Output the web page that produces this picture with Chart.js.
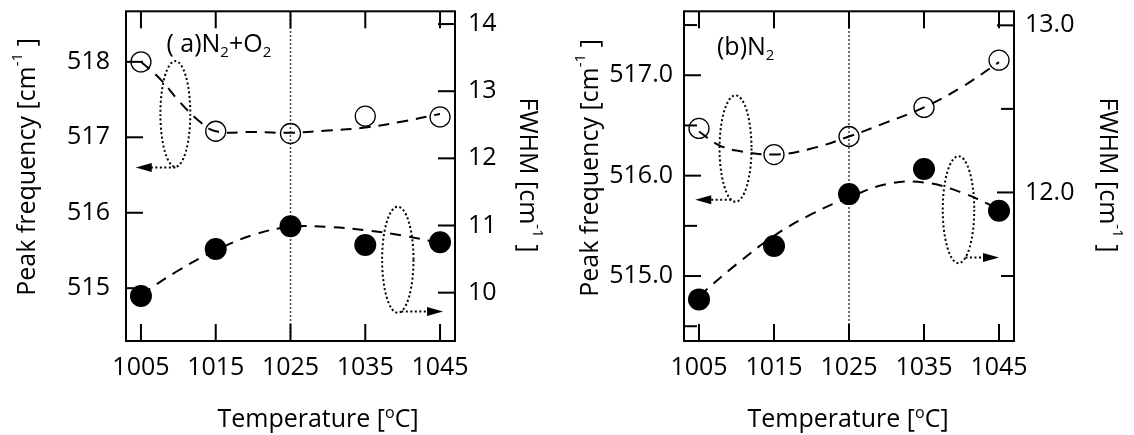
<!DOCTYPE html>
<html>
<head>
<meta charset="utf-8">
<script src="https://cdn.jsdelivr.net/npm/chart.js@4.4.1/dist/chart.umd.min.js"></script>
<style>
    body { margin: 0; background: #fff; }
    canvas { position: absolute; top: 0; }
    #chartA { left: 0; }
    #chartB { left: 567px; }
</style>
</head>
<body>
<canvas id="chartA" width="567" height="435"></canvas>
<canvas id="chartB" width="567" height="435"></canvas>
<script>
// Temperatures [oC]
const temps = [1005, 1015, 1025, 1035, 1045];
const xTicks = [1005, 1015, 1025, 1035, 1045];

// (a) N2+O2
const freqA = [518.00, 517.08, 517.05, 517.28, 517.27];
const fwhmA = [9.95, 10.65, 10.99, 10.71, 10.75];
const fitTempsFreqA = [1005, 1007.5, 1010, 1012.5, 1015, 1020, 1025, 1030, 1035, 1040, 1045];
const fitFreqA = [518.00, 517.78, 517.49, 517.24, 517.08, 517.07, 517.06, 517.09, 517.13, 517.21, 517.31];
const fitTempsFwhmA = [1005, 1010, 1015, 1020, 1025, 1030, 1035, 1040, 1045];
const fitFwhmA = [9.97, 10.33, 10.63, 10.86, 10.98, 10.98, 10.93, 10.85, 10.74];
const freqTicksA = [515, 516, 517, 518];
const fwhmTicksA = [10, 11, 12, 13, 14];

// (b) N2
const freqB = [516.47, 516.21, 516.39, 516.68, 517.15];
const fwhmB = [11.36, 11.68, 11.99, 12.14, 11.89];
const fitTempsFreqB = [1005, 1007.5, 1010, 1015, 1020, 1025, 1030, 1035, 1040, 1045];
const fitFreqB = [516.44, 516.31, 516.25, 516.21, 516.27, 516.39, 516.53, 516.68, 516.88, 517.13];
const fitTempsFwhmB = [1005, 1010, 1015, 1020, 1025, 1030, 1035, 1040, 1045];
const fitFwhmB = [11.38, 11.57, 11.74, 11.87, 11.97, 12.05, 12.06, 12.00, 11.90];
const freqTicksB = [514.5, 515, 515.5, 516, 516.5, 517, 517.5];
const fwhmTicksB = [11.5, 12, 12.5, 13];

const FONT = '"Open Sans", "Liberation Sans", Arial, sans-serif';

function pts(xs, ys) {
    return xs.map((x, i) => ({ x: x, y: ys[i] }));
}

// text with sub/superscripts, centered (or left aligned) at x,y
function drawRich(ctx, parts, x, y, rot, align) {
    ctx.save();
    ctx.translate(x, y);
    ctx.rotate(rot);
    let total = 0;
    parts.forEach(p => {
        ctx.font = p.size + 'px ' + FONT;
        p.w = ctx.measureText(p.text).width;
        total += p.w;
    });
    let cx = align === 'left' ? 0 : -total / 2;
    ctx.fillStyle = '#000';
    ctx.textAlign = 'left';
    ctx.textBaseline = 'alphabetic';
    parts.forEach(p => {
        ctx.font = p.size + 'px ' + FONT;
        ctx.fillText(p.text, cx, p.dy || 0);
        cx += p.w;
    });
    ctx.restore();
}

const peakTitle = [{ text: 'Peak frequency [cm', size: 25 }, { text: '-1', size: 15, dy: -13 }, { text: ' ]', size: 25 }];
const fwhmTitle = [{ text: 'FWHM [cm', size: 25 }, { text: '-1', size: 15, dy: -13 }, { text: ' ]', size: 25 }];
const tempTitle = [{ text: 'Temperature [', size: 25 }, { text: 'o', size: 16, dy: -9 }, { text: 'C]', size: 25 }];

function makeDeco(cfg) {
    return {
        id: 'deco',
        beforeDatasetsDraw(chart) {
            const ctx = chart.ctx, a = chart.chartArea;
            const px = chart.scales.x.getPixelForValue(cfg.guideAt);
            ctx.save();
            ctx.strokeStyle = '#000';
            ctx.lineWidth = 1.5;
            ctx.setLineDash([1.5, 2.5]);
            ctx.beginPath();
            ctx.moveTo(px, a.top);
            ctx.lineTo(px, a.bottom);
            ctx.stroke();
            ctx.restore();
        },
        afterDraw(chart) {
            const ctx = chart.ctx, a = chart.chartArea, s = chart.scales;
            const line = (x1, y1, x2, y2) => { ctx.beginPath(); ctx.moveTo(x1, y1); ctx.lineTo(x2, y2); ctx.stroke(); };
            ctx.save();
            ctx.setLineDash([]);
            ctx.fillStyle = '#000';

            // inward ticks on all four sides (minor ones have no label)
            xTicks.forEach(v => {
                const px = s.x.getPixelForValue(v);
                ctx.fillRect(px - 1, a.bottom - 17, 2, 17);
                ctx.fillRect(px - 1, a.top, 2, 17);
            });
            cfg.freqTicks.forEach(v => {
                const py = s.yL.getPixelForValue(v);
                ctx.fillRect(a.left, py - 1, cfg.fmt(v) === '' ? 13 : 17, 2);
            });
            cfg.fwhmTicks.forEach(v => {
                const py = s.yR.getPixelForValue(v);
                const len = cfg.fmt(v) === '' ? 13 : 17;
                ctx.fillRect(a.right - len, py - 1, len, 2);
            });
            ctx.strokeStyle = '#000';
            ctx.lineWidth = 2;
            ctx.strokeRect(a.left, a.top, a.right - a.left, a.bottom - a.top);

            // dotted loops with arrows pointing to the axis
            cfg.loops.forEach(l => {
                const y = s[l.axis];
                const cxp = s.x.getPixelForValue(l.cx);
                const rxp = Math.abs(s.x.getPixelForValue(l.cx + l.rx) - cxp);
                const cyp = y.getPixelForValue(l.cy);
                const ryp = Math.abs(y.getPixelForValue(l.cy + l.ry) - cyp);
                const ayp = y.getPixelForValue(l.ay);
                const tip = s.x.getPixelForValue(l.tip);
                const dir = Math.sign(tip - cxp);
                const k = (ayp - cyp) / ryp;
                const sx = cxp + dir * rxp * Math.sqrt(Math.max(0, 1 - k * k));

                ctx.lineWidth = 2;
                ctx.setLineDash([2, 2.5]);
                ctx.beginPath();
                ctx.ellipse(cxp, cyp, rxp, ryp, 0, 0, Math.PI * 2);
                ctx.stroke();
                line(sx, ayp, tip - dir * 14, ayp);

                ctx.setLineDash([]);
                ctx.beginPath();
                ctx.moveTo(tip, ayp);
                ctx.lineTo(tip - dir * 16, ayp - 4.5);
                ctx.lineTo(tip - dir * 16, ayp + 4.5);
                ctx.closePath();
                ctx.fill();
            });
            ctx.restore();

            // panel label
            drawRich(ctx, cfg.label, s.x.getPixelForValue(cfg.labelAt[0]), s.yL.getPixelForValue(cfg.labelAt[1]), 0, 'left');

            // axis titles
            drawRich(ctx, peakTitle, cfg.peakTitle[0], cfg.peakTitle[1], -Math.PI / 2);
            drawRich(ctx, fwhmTitle, cfg.fwhmTitle[0], cfg.fwhmTitle[1], Math.PI / 2);
            drawRich(ctx, tempTitle, cfg.tempTitle[0], cfg.tempTitle[1], 0);
        }
    };
}

function axisFont() {
    return { color: '#000', font: { family: FONT, size: 25 }, autoSkip: false, maxRotation: 0 };
}

function noPad(sc) {
    sc.paddingTop = 0;
    sc.paddingBottom = 0;
    sc.paddingLeft = 0;
    sc.paddingRight = 0;
}

function makeChart(canvas, d) {
    return new Chart(canvas, {
        type: 'scatter',
        data: {
            datasets: [{
                label: 'Peak frequency',
                data: pts(temps, d.freq),
                yAxisID: 'yL',
                pointRadius: 10,
                pointBackgroundColor: 'transparent',
                pointBorderColor: '#000',
                pointBorderWidth: 1.3,
                order: 2
            }, {
                label: 'FWHM',
                data: pts(temps, d.fwhm),
                yAxisID: 'yR',
                pointRadius: 11,
                pointBackgroundColor: '#000',
                pointBorderColor: '#000',
                pointBorderWidth: 0,
                order: 2
            }, {
                label: 'Peak frequency fit',
                data: pts(d.fitTempsFreq, d.fitFreq),
                yAxisID: 'yL',
                showLine: true,
                pointRadius: 0,
                borderColor: '#000',
                borderWidth: 2,
                borderDash: [11, 8],
                tension: 0.4,
                order: 1
            }, {
                label: 'FWHM fit',
                data: pts(d.fitTempsFwhm, d.fitFwhm),
                yAxisID: 'yR',
                showLine: true,
                pointRadius: 0,
                borderColor: '#000',
                borderWidth: 2,
                borderDash: [11, 8],
                tension: 0.4,
                order: 1
            }]
        },
        options: {
            responsive: false,
            animation: false,
            layout: { padding: { top: 11, left: 0, right: 0, bottom: 0 } },
            plugins: {
                legend: { display: false },
                tooltip: { enabled: false }
            },
            scales: {
                x: {
                    type: 'linear',
                    min: 1003,
                    max: 1047,
                    grid: { display: false, drawTicks: false },
                    border: { display: false },
                    afterBuildTicks: sc => { sc.ticks = xTicks.map(v => ({ value: v })); },
                    afterFit: sc => { sc.height = 94; noPad(sc); },
                    ticks: Object.assign(axisFont(), { padding: 12, callback: v => String(v) })
                },
                yL: {
                    type: 'linear',
                    position: 'left',
                    min: d.freqRange[0],
                    max: d.freqRange[1],
                    grid: { display: false, drawTicks: false },
                    border: { display: false },
                    afterBuildTicks: sc => { sc.ticks = d.freqTicks.map(v => ({ value: v })); },
                    afterFit: sc => { sc.width = d.leftWidth; noPad(sc); },
                    ticks: Object.assign(axisFont(), { padding: d.leftPad, callback: d.fmt })
                },
                yR: {
                    type: 'linear',
                    position: 'right',
                    min: d.fwhmRange[0],
                    max: d.fwhmRange[1],
                    grid: { display: false, drawTicks: false },
                    border: { display: false },
                    afterBuildTicks: sc => { sc.ticks = d.fwhmTicks.map(v => ({ value: v })); },
                    afterFit: sc => { sc.width = d.rightWidth; noPad(sc); },
                    ticks: Object.assign(axisFont(), { padding: d.rightPad, callback: d.fmt })
                }
            }
        },
        plugins: [makeDeco(Object.assign({ freqTicks: d.freqTicks, fwhmTicks: d.fwhmTicks, fmt: d.fmt }, d.deco))]
    });
}

// (a) N2+O2
const chartItemA = document.getElementById('chartA');
if (chartItemA) {
    makeChart(chartItemA, {
        freq: freqA, fwhm: fwhmA,
        fitTempsFreq: fitTempsFreqA, fitFreq: fitFreqA,
        fitTempsFwhm: fitTempsFwhmA, fitFwhm: fitFwhmA,
        freqTicks: freqTicksA, fwhmTicks: fwhmTicksA,
        freqRange: [514.30, 518.67], fwhmRange: [9.28, 14.19],
        leftWidth: 126, rightWidth: 112, leftPad: 16, rightPad: 13,
        fmt: v => String(v),
        deco: {
            guideAt: 1025,
            loops: [
                { axis: 'yL', cx: 1009.6, cy: 517.31, rx: 2.0, ry: 0.70, ay: 516.60, tip: 1004.3 },
                { axis: 'yR', cx: 1039.35, cy: 10.49, rx: 2.1, ry: 0.79, ay: 9.72, tip: 1045.4 }
            ],
            label: [
                { text: '( a)N', size: 25 }, { text: '2', size: 15, dy: 5 },
                { text: '+O', size: 25 }, { text: '2', size: 15, dy: 5 }
            ],
            labelAt: [1008.4, 518.13],
            peakTitle: [35, 167],
            fwhmTitle: [520, 175],
            tempTitle: [318, 427]
        }
    });
}

// (b) N2
const chartItemB = document.getElementById('chartB');
if (chartItemB) {
    makeChart(chartItemB, {
        freq: freqB, fwhm: fwhmB,
        fitTempsFreq: fitTempsFreqB, fitFreq: fitFreqB,
        fitTempsFwhm: fitTempsFwhmB, fitFwhm: fitFwhmB,
        freqTicks: freqTicksB, fwhmTicks: fwhmTicksB,
        freqRange: [514.353, 517.637], fwhmRange: [11.111, 13.084],
        leftWidth: 117, rightWidth: 120, leftPad: 11, rightPad: 11,
        fmt: v => Number.isInteger(v) ? v.toFixed(1) : '',
        deco: {
            guideAt: 1025,
            loops: [
                { axis: 'yL', cx: 1009.87, cy: 516.27, rx: 2.13, ry: 0.53, ay: 515.76, tip: 1004.5 },
                { axis: 'yR', cx: 1039.6, cy: 11.897, rx: 2.1, ry: 0.32, ay: 11.61, tip: 1045 }
            ],
            label: [{ text: '(b)N', size: 25 }, { text: '2', size: 15, dy: 5 }],
            labelAt: [1007.4, 517.2],
            peakTitle: [31, 168],
            fwhmTitle: [533, 175],
            tempTitle: [281, 427]
        }
    });
}
</script>
</body>
</html>
